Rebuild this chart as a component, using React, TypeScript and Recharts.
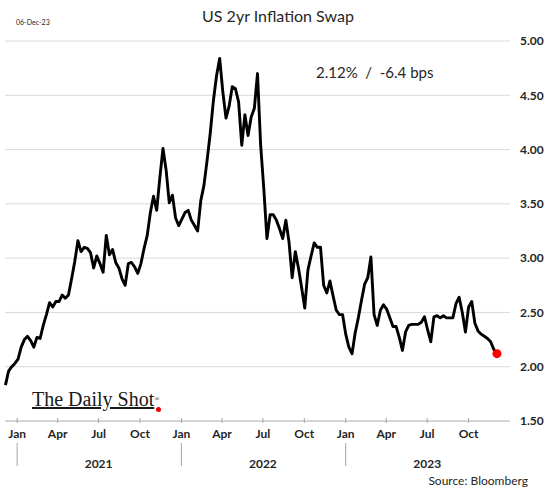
import React from "react"
import { LineChart, Line, XAxis, YAxis, CartesianGrid, ReferenceDot } from "recharts"

// weekly closes, first week Dec 6 2020, last one Dec 2023
const startDate = Date.UTC(2020, 11, 6)
const WEEK = 7 * 24 * 3600 * 1000

const swapValues = [
  1.83, 1.96, 2.0, 2.03, 2.07, 2.18, 2.25, 2.28, 2.24, 2.18,
  2.27, 2.26, 2.38, 2.48, 2.59, 2.55, 2.6, 2.6, 2.66, 2.63,
  2.66, 2.81, 2.97, 3.16, 3.06, 3.1, 3.09, 3.05, 2.91, 3.02,
  2.95, 2.87, 3.21, 3.03, 3.08, 2.96, 2.91, 2.81, 2.75, 2.95,
  2.96, 2.92, 2.86, 2.95, 3.09, 3.21, 3.42, 3.57, 3.44, 3.74,
  4.01, 3.81, 3.51, 3.58, 3.37, 3.3, 3.36, 3.42, 3.44, 3.35,
  3.3, 3.25, 3.53, 3.67, 3.9, 4.15, 4.45, 4.68, 4.84, 4.53,
  4.29, 4.4, 4.58, 4.56, 4.44, 4.04, 4.32, 4.13, 4.3, 4.38,
  4.7, 4.04, 3.64, 3.18, 3.4, 3.4, 3.35, 3.27, 3.18, 3.35,
  3.15, 2.82, 3.06, 2.91, 2.73, 2.54, 2.89, 3.02, 3.14, 3.1,
  3.1, 2.75, 2.68, 2.79, 2.65, 2.52, 2.48, 2.48, 2.3, 2.18,
  2.12, 2.31, 2.45, 2.61, 2.76, 2.82, 3.01, 2.48, 2.38, 2.52,
  2.57, 2.53, 2.45, 2.37, 2.37, 2.27, 2.15, 2.32, 2.38, 2.39,
  2.39, 2.39, 2.41, 2.46, 2.34, 2.23, 2.46, 2.47, 2.45, 2.47,
  2.45, 2.45, 2.45, 2.58, 2.64, 2.5, 2.32, 2.55, 2.6, 2.4,
  2.33, 2.3, 2.28, 2.26, 2.23, 2.16, 2.12,
]

const tickYears = [2021, 2022, 2023]
const tickMonths = ["Jan", "Apr", "Jul", "Oct"]
const yTicks = [1.5, 2.0, 2.5, 3.0, 3.5, 4.0, 4.5, 5.0]

const data = swapValues.map((v, i) => ({ t: startDate + i * WEEK, v }))
const last = data[data.length - 1]

const xTicks: number[] = []
tickYears.forEach((yr) => tickMonths.forEach((_, q) => xTicks.push(Date.UTC(yr, q * 3, 1))))

const textColor = "#262626"

function MonthTick(props: any) {
  const { x, y, payload } = props
  const d = new Date(payload.value)
  const m = d.getUTCMonth()
  return (
    <g>
      <line x1={x} x2={x} y1={y - 3} y2={y + 2} stroke="#a6a6a6" />
      <text x={x} y={y + 13} dy="0.35em" textAnchor="middle" fontSize={12} fontWeight="bold" fill={textColor} fontFamily="Lato">
        {tickMonths[m / 3]}
      </text>
      {m === 0 && <line x1={x} x2={x} y1={y + 22} y2={y + 45} stroke="#a6a6a6" />}
      {m === 6 && (
        <text x={x} y={y + 43} dy="0.35em" textAnchor="middle" fontSize={12} fontWeight="bold" fill={textColor} fontFamily="Lato">
          {d.getUTCFullYear()}
        </text>
      )}
    </g>
  )
}

export default function App() {
  return (
    <div style={{ position: "absolute", left: 0, top: 0, width: 560, height: 490, background: "#fff", fontFamily: "Lato", color: textColor }}>
      <LineChart width={560} height={490} data={data} margin={{ top: 41, right: 0, bottom: 9, left: 5 }}>
        <CartesianGrid vertical={false} stroke="#d9d9d9" />
        <XAxis
          dataKey="t"
          type="number"
          domain={[Date.UTC(2020, 11, 5), Date.UTC(2024, 0, 1)]}
          ticks={xTicks}
          interval={0}
          tickSize={0}
          tickMargin={0}
          tickLine={false}
          axisLine={{ stroke: "#bfbfbf" }}
          height={60}
          tick={(p: any) => <MonthTick {...p} />}
        />
        <YAxis
          orientation="right"
          domain={[1.5, 5]}
          ticks={yTicks}
          width={50}
          tickLine={false}
          axisLine={false}
          tickMargin={4}
          tickFormatter={(v: number) => v.toFixed(2)}
          tick={{ fontSize: 12, fontWeight: "bold", fill: textColor, fontFamily: "Lato" }}
        />
        <Line type="linear" dataKey="v" stroke="#000" strokeWidth={2.9} strokeLinejoin="round" dot={false} isAnimationActive={false} />
        <ReferenceDot x={last.t} y={last.v} r={4.5} fill="#ff0000" stroke="none" />
      </LineChart>

      <div style={{ position: "absolute", left: 0, width: 556, top: 7.5, textAlign: "center", fontSize: 16, lineHeight: "16px" }}>
        US 2yr Inflation Swap
      </div>
      <div style={{ position: "absolute", left: 16, top: 18.5, fontSize: 7, lineHeight: "7px" }}>06-Dec-23</div>
      <div style={{ position: "absolute", left: 316, top: 65, fontSize: 15, lineHeight: "15px", whiteSpace: "pre" }}>
        {"2.12%  /  -6.4 bps"}
      </div>
      <div style={{ position: "absolute", right: 32, top: 475, fontSize: 12, lineHeight: "12px" }}>Source: Bloomberg</div>

      <div style={{ position: "absolute", left: 32, top: 389, fontFamily: "'Liberation Serif'", fontSize: 20, lineHeight: "20px", color: "#1a1a1a", whiteSpace: "nowrap" }}>
        <span style={{ textDecoration: "underline", textDecorationThickness: 1.5 }}>The Daily Shot</span>
        <span style={{ fontSize: 7, verticalAlign: "top" }}>®</span>
      </div>
      <div style={{ position: "absolute", left: 156, top: 406.5, width: 5, height: 5, borderRadius: 3, background: "#e00" }} />
    </div>
  )
}
